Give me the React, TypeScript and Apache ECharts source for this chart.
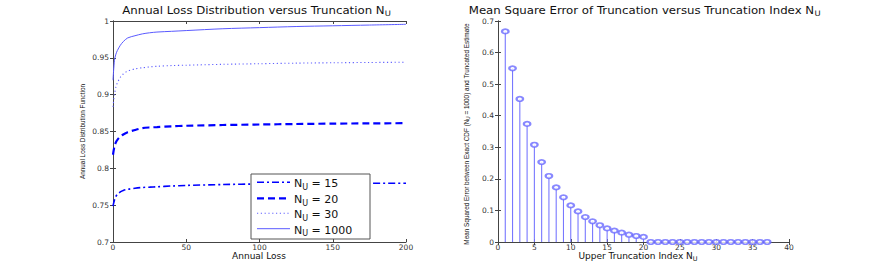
import React, { useEffect, useRef } from 'react';
import * as echarts from 'echarts';

const lossX = [0, 1, 2, 3, 5, 7, 10, 15, 20, 25, 30, 40, 50, 75, 100, 125, 150, 175, 200];
const cdfN15 = [0.7487, 0.757, 0.762, 0.7645, 0.768, 0.770, 0.7715, 0.773, 0.774, 0.7745, 0.775, 0.776, 0.7768, 0.778, 0.7788, 0.7792, 0.7795, 0.7797, 0.7798];
const cdfN20 = [0.8184, 0.830, 0.8355, 0.8387, 0.843, 0.846, 0.849, 0.852, 0.8545, 0.8555, 0.856, 0.857, 0.8578, 0.8588, 0.8595, 0.8602, 0.8607, 0.861, 0.8613];
const cdfN30 = [0.8835, 0.900, 0.9106, 0.916, 0.9235, 0.928, 0.932, 0.935, 0.9365, 0.9377, 0.9385, 0.9395, 0.940, 0.9412, 0.942, 0.9428, 0.9433, 0.9437, 0.944];
const cdfN1000 = [0.9196, 0.9467, 0.955, 0.960, 0.967, 0.972, 0.977, 0.980, 0.9825, 0.984, 0.985, 0.986, 0.987, 0.9895, 0.991, 0.9925, 0.9935, 0.9945, 0.9955];

const truncIndex = Array.from({ length: 37 }, (_, i) => i + 1);
const mseValues = [
  0.667, 0.550, 0.453, 0.374, 0.308, 0.253, 0.209, 0.173, 0.1415, 0.116,
  0.097, 0.079, 0.0655, 0.053, 0.043, 0.036, 0.0296, 0.023, 0.019, 0.016,
  0, 0, 0, 0, 0, 0, 0, 0, 0, 0, 0, 0, 0, 0, 0, 0, 0,
];

const legendLabels = ['15', '20', '30', '1000'];

const FONT = 'Liberation Sans, Arial, sans-serif';
const WIDE = 'DejaVu Sans, sans-serif';
const AX = '#444';

export default function App() {
  const ref = useRef<HTMLDivElement>(null);
  useEffect(() => {
    const chart = echarts.init(ref.current!, null, { renderer: 'svg' });
    const pair = (xs: number[], ys: number[]) => xs.map((x, i) => [x, ys[i]]);
    const tickLabel = { color: '#333', fontSize: 7.5, fontFamily: WIDE, margin: 4 };
    const xTickLabel = { ...tickLabel, margin: 1, lineHeight: 8 };
    const baseAxis = (extra: any) => ({
      axisLine: { show: true, lineStyle: { color: AX, width: 1 } },
      axisTick: { show: true, inside: true, length: 3, lineStyle: { color: AX } },
      splitLine: { show: false },
      ...extra,
    });
    const hiddenLabel = { show: false };

    const lineStyles = [
      { color: '#0000ff', width: 1.6, type: [7, 3, 2, 3] },
      { color: '#0000ff', width: 2.2, type: [7, 4] },
      { color: '#6060ff', width: 1.1, type: [1.2, 2.6] },
      { color: '#5a5aff', width: 1, type: 'solid' },
    ];

    const legendX = 251, legendY = 174, legendW = 119, legendH = 65;
    const legendRowY = [182.3, 198.3, 213.3, 228.7];
    const legendGraphics: any[] = [
      {
        type: 'rect', z: 100,
        shape: { x: legendX, y: legendY, width: legendW, height: legendH },
        style: { fill: '#fff', stroke: '#555', lineWidth: 1 },
      },
    ];
    legendLabels.forEach((lab, i) => {
      const ls: any = lineStyles[i];
      legendGraphics.push({
        type: 'line', z: 101,
        shape: { x1: 257, y1: legendRowY[i], x2: 290, y2: legendRowY[i] },
        style: { stroke: ls.color, lineWidth: ls.width, lineDash: ls.type === 'solid' ? null : ls.type },
      });
      legendGraphics.push({
        type: 'text', z: 101, x: 294, y: legendRowY[i] - 6,
        style: {
          text: '{a|N}{s|U}{a| = ' + lab + '}',
          rich: {
            a: { fontSize: 11, fontFamily: WIDE, fill: '#111', lineHeight: 12 },
            s: { fontSize: 8, fontFamily: WIDE, fill: '#111', padding: [7, 0, 0, 0] },
          },
        },
      });
    });

    const richTitle = {
      a: { fontSize: 10.5, fontFamily: WIDE, fill: '#111', lineHeight: 12 },
      s: { fontSize: 7.5, fontFamily: WIDE, fill: '#111', padding: [6, 0, 0, 0] },
    };
    const richSmall = {
      a: { fontSize: 6.4, fontFamily: FONT, fill: '#111', lineHeight: 8 },
      s: { fontSize: 4.5, fontFamily: FONT, fill: '#111', padding: [4, 0, 0, 0] },
    };

    const option: any = {
      animation: false,
      backgroundColor: '#fff',
      grid: [
        { left: 113, right: 466, top: 21, bottom: 31, containLabel: false },
        { left: 498, right: 83, top: 21, bottom: 31, containLabel: false },
      ],
      xAxis: [
        baseAxis({ type: 'value', gridIndex: 0, min: 0, max: 200, interval: 50, position: 'bottom', axisLabel: xTickLabel }),
        baseAxis({ type: 'value', gridIndex: 0, min: 0, max: 200, interval: 50, position: 'top', axisLabel: hiddenLabel }),
        baseAxis({ type: 'value', gridIndex: 1, min: 0, max: 40, interval: 5, position: 'bottom', axisLabel: xTickLabel }),
        baseAxis({ type: 'value', gridIndex: 1, min: 0, max: 40, interval: 5, position: 'top', axisLabel: hiddenLabel }),
      ],
      yAxis: [
        baseAxis({ type: 'value', gridIndex: 0, min: 0.7, max: 1, interval: 0.05, position: 'left', axisLabel: { ...tickLabel, formatter: (v: number) => String(+v.toFixed(2)) } }),
        baseAxis({ type: 'value', gridIndex: 0, min: 0.7, max: 1, interval: 0.05, position: 'right', axisLabel: hiddenLabel }),
        baseAxis({ type: 'value', gridIndex: 1, min: 0, max: 0.7, interval: 0.1, position: 'left', axisLabel: { ...tickLabel, formatter: (v: number) => String(+v.toFixed(1)) } }),
        baseAxis({ type: 'value', gridIndex: 1, min: 0, max: 0.7, interval: 0.1, position: 'right', axisLabel: hiddenLabel }),
      ],
      series: [
        ...[cdfN15, cdfN20, cdfN30, cdfN1000].map((ys, i) => ({
          type: 'line', xAxisIndex: 0, yAxisIndex: 0, data: pair(lossX, ys),
          symbol: 'none', smooth: 0.3, lineStyle: lineStyles[i], z: 3,
        })),
        {
          type: 'bar', xAxisIndex: 2, yAxisIndex: 2, data: pair(truncIndex, mseValues),
          barWidth: 1.1, itemStyle: { color: '#7878ff' }, z: 2,
        },
        {
          type: 'scatter', xAxisIndex: 2, yAxisIndex: 2, data: pair(truncIndex, mseValues),
          symbol: 'emptyCircle', symbolSize: [6.5, 4.5],
          itemStyle: { color: '#6a6aff', borderColor: '#6a6aff', borderWidth: 0.8 }, z: 4,
        },
      ],
      graphic: [
        {
          type: 'text', x: 256.5, y: 4, scaleX: 1.12,
          style: { text: '{a|Annual Loss Distribution versus Truncation N}{s|U}', rich: richTitle, align: 'center' },
        },
        {
          type: 'text', x: 644.5, y: 4, scaleX: 1.12,
          style: { text: '{a|Mean Square Error of Truncation versus Truncation Index N}{s|U}', rich: richTitle, align: 'center' },
        },
        {
          type: 'text', x: 259, y: 251,
          style: { text: 'Annual Loss', fontSize: 9, fontFamily: WIDE, fill: '#111', align: 'center' },
        },
        {
          type: 'text', x: 638, y: 250,
          style: { text: '{b|Upper Truncation Index N}{t|U}', align: 'center', rich: {
            b: { fontSize: 9, fontFamily: WIDE, fill: '#111', lineHeight: 10 },
            t: { fontSize: 6.5, fontFamily: WIDE, fill: '#111', padding: [5, 0, 0, 0] },
          } },
        },
        {
          type: 'text', x: 79, y: 131.5, rotation: Math.PI / 2,
          style: { text: 'Annual Loss Distribution Function', fontSize: 6.4, fontFamily: FONT, fill: '#111', align: 'center' },
        },
        {
          type: 'text', x: 462, y: 134, rotation: Math.PI / 2,
          style: { text: '{a|Mean Squared Error between Exact CDF (N}{s|U}{a| = 1000) and Truncated Estimate}', rich: richSmall, align: 'center' },
        },
        ...legendGraphics,
      ],
    };
    chart.setOption(option);
    return () => chart.dispose();
  }, []);
  return <div ref={ref} style={{ position: 'fixed', left: 0, top: 0, width: 872, height: 273, background: '#fff' }} />;
}
